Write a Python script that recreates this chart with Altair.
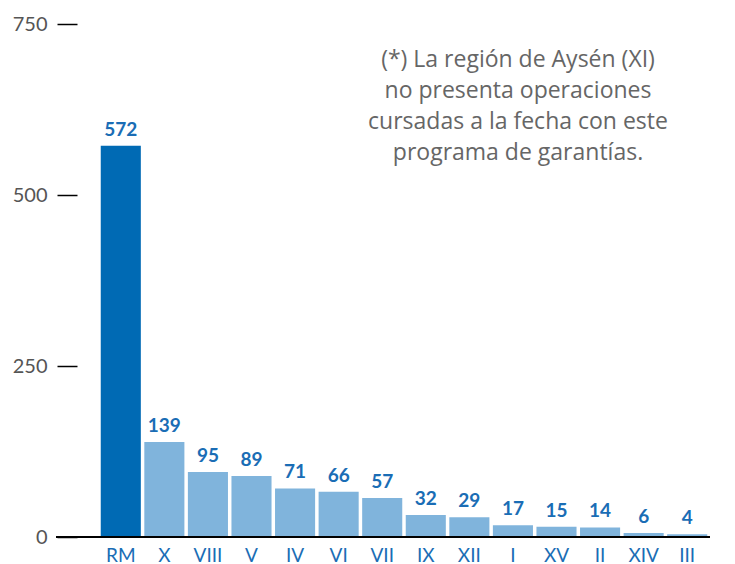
import altair as alt
import pandas as pd

regions = ["RM", "X", "VIII", "V", "IV", "VI", "VII", "IX", "XII", "I", "XV", "II", "XIV", "III"]
values = [572, 139, 95, 89, 71, 66, 57, 32, 29, 17, 15, 14, 6, 4]
highlight = ["RM"]
note_lines = ["(*) La región de Aysén (XI)", "no presenta operaciones",
              "cursadas a la fecha con este", "programa de garantías."]

df = pd.DataFrame({"region": regions, "value": values})
df["grp"] = ["dark" if r in highlight else "light" for r in regions]

FONT = "Lato"
W, H = 610, 513

x = alt.X("region:N", sort=regions,
          scale=alt.Scale(paddingInner=0.08, paddingOuter=0.04),
          axis=alt.Axis(title=None, labelAngle=0, domain=False, ticks=False,
                        labelColor="#1a6db5", labelFontSize=19, labelFont=FONT,
                        labelPadding=9))
yscale = alt.Scale(domain=[0, 750], nice=False)
y = alt.Y("value:Q", scale=yscale,
          axis=alt.Axis(title=None, values=[0, 250, 500, 750], domain=False, grid=False,
                        tickSize=20, tickColor="#000", tickWidth=1.5, offset=22,
                        labelColor="#555", labelFontSize=20, labelFont=FONT,
                        labelPadding=10))

bars = alt.Chart(df).mark_bar().encode(
    x=x, y=y,
    color=alt.Color("grp:N", scale=alt.Scale(domain=["dark", "light"],
                                             range=["#006ab4", "#80b4dc"]), legend=None)
)

labels = alt.Chart(df).mark_text(dy=-6, baseline="bottom", fontWeight="bold", fontSize=19,
                                 font=FONT, color="#1a6db5").encode(
    x=alt.X("region:N", sort=regions), y=alt.Y("value:Q", scale=yscale), text="value:Q")

base = alt.Chart(df).mark_rule(color="#000", strokeWidth=2).encode(
    x=alt.value(-43), x2=alt.value(W + 1), y=alt.value(H))

note = alt.Chart(pd.DataFrame({"k": [0]})).mark_text(
    text=note_lines, fontSize=23, font="Open Sans", fontWeight="normal",
    color="#666", align="center", baseline="middle", lineHeight=31).encode(
    x=alt.value(419), y=alt.value(36))

chart = alt.layer(bars, labels, base, note).properties(
    width=W, height=H,
    autosize=alt.AutoSizeParams(type="none"),
    padding={"left": 91, "top": 16, "right": 16, "bottom": 28},
).configure_view(stroke=None)

chart.save("out.html", embed_options={"renderer": "svg", "actions": False})
